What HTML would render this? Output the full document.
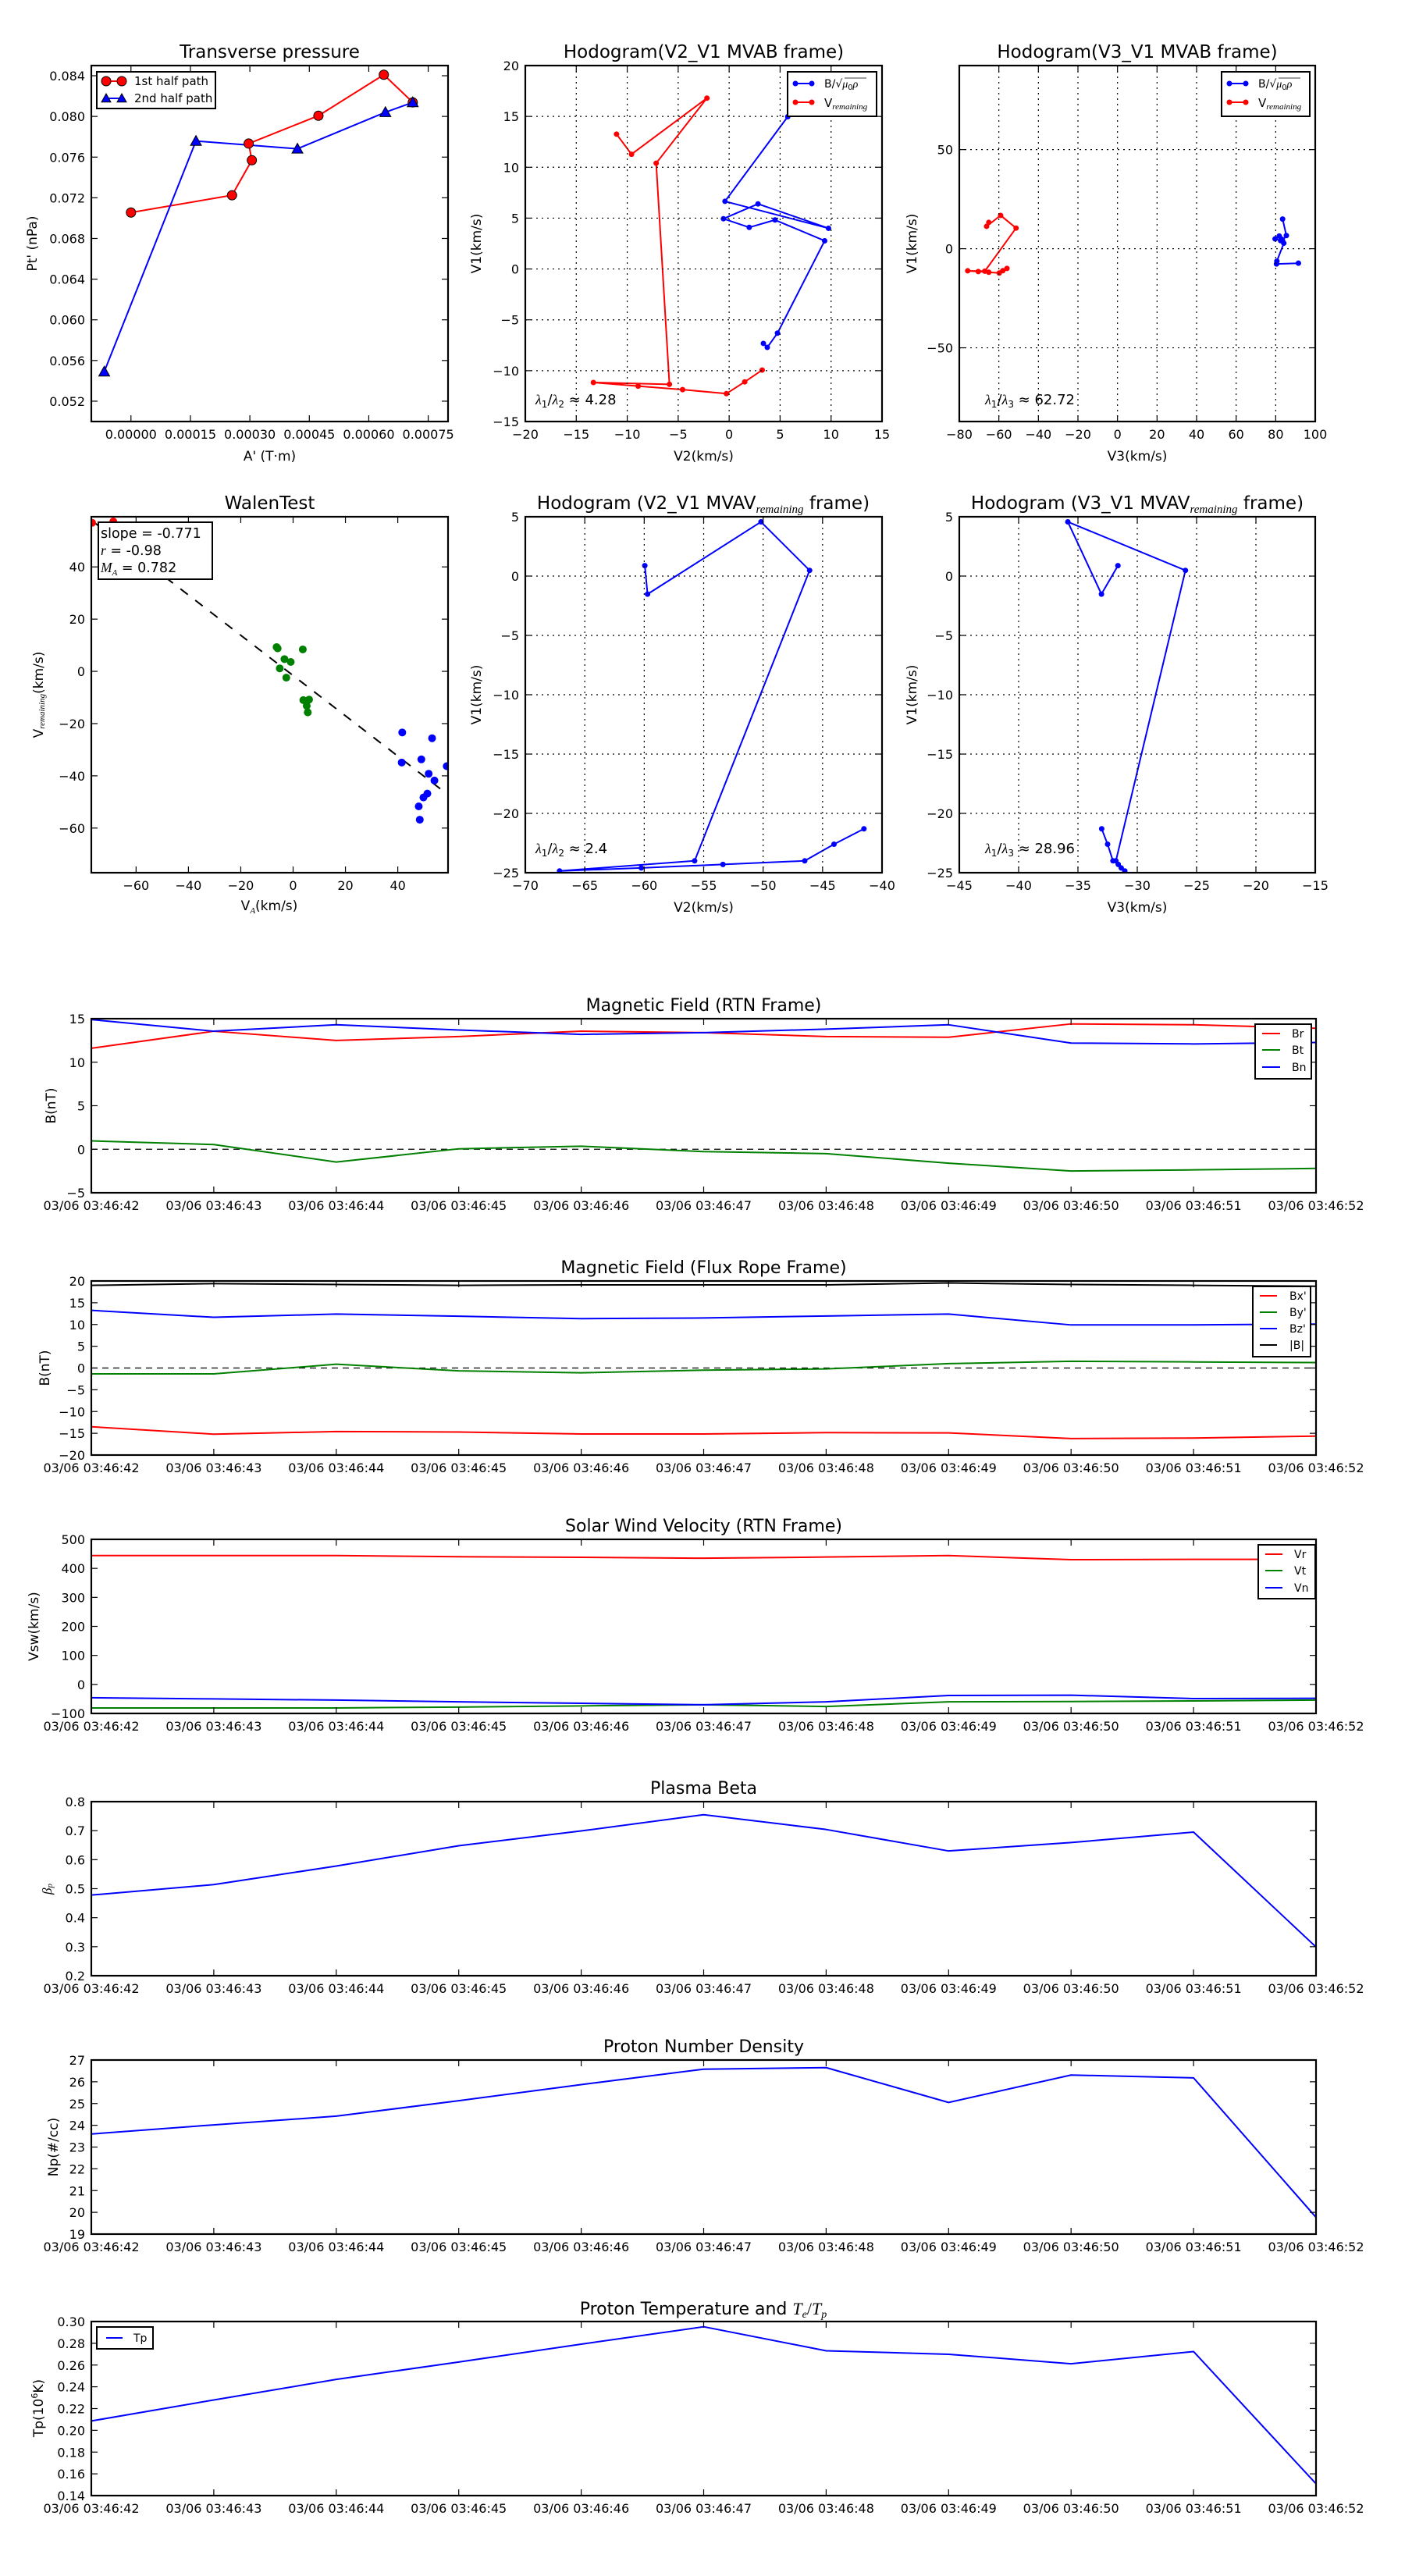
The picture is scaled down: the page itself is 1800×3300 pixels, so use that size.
<!DOCTYPE html>
<html><head><meta charset="utf-8"><title>Flux rope analysis</title>
<style>html,body{margin:0;padding:0;background:#fff}svg{display:block}text{font-family:"DejaVu Sans","Liberation Sans",sans-serif;fill:#000}</style>
</head><body>
<svg id="fig" xmlns="http://www.w3.org/2000/svg" width="1800" height="3300" viewBox="0 0 1800 3300"><rect width="1800" height="3300" fill="#fff"/></svg>
<script>
// ---- Transverse pressure ----
const tpA1=[0,0.000255,0.000305,0.000297,0.000473,0.000638,0.000711];
const tpP1=[0.07055,0.07225,0.07569,0.07733,0.08007,0.0841,0.08138];
const tpA2=[0.000711,0.000642,0.00042,0.000164,-0.0000674];
const tpP2=[0.08138,0.08041,0.07682,0.07758,0.0549];
// ---- Hodogram MVAB ----
const bV2=[5.75,-0.41,9.75,2.83,-0.56,1.97,4.5,9.37,4.74,3.74,3.36];
const bV1=[14.97,6.65,4.0,6.4,4.94,4.09,4.82,2.77,-6.31,-7.71,-7.32];
const bV3=[83.5,85.4,83.5,81.8,79.7,82.5,83.0,84.1,80.6,80.4,91.5];
const rV2=[-11.05,-9.58,-2.18,-7.16,-5.86,-13.32,-8.93,-4.57,-0.27,1.53,3.24];
const rV1=[13.26,11.28,16.8,10.4,-11.34,-11.16,-11.52,-11.86,-12.26,-11.1,-9.94];
const rV3=[-65.1,-66.2,-59.1,-51.3,-67.1,-75.75,-70.4,-65.1,-59.8,-58.0,-55.9];
// ---- Hodogram MVAV ----
const mV2=[-59.95,-59.72,-50.18,-46.09,-55.76,-67.12,-60.25,-53.38,-46.5,-44.04,-41.52];
const mV1=[0.88,-1.52,4.57,0.48,-24.0,-24.85,-24.6,-24.3,-24.0,-22.6,-21.3];
const mV3=[-31.63,-33.02,-35.85,-25.94,-31.8,-31.05,-31.35,-31.6,-32.05,-32.5,-33.0];
// ---- Walen test ----
const wRedVA=[-76.8,-68.7];
const wRedVR=[56.9,57.4];
const wGreenVA=[-6.3,-5.9,-3.3,-0.9,-5.1,-2.6,3.7,3.9,6.1,5.2,5.6];
const wGreenVR=[9.3,8.8,4.7,3.6,1.15,-2.4,8.4,-11.0,-10.8,-13.2,-15.7];
const wBlueVA=[41.7,41.5,49,53.1,58.7,51.8,54,51.3,49.8,48,48.4];
const wBlueVR=[-23.4,-34.9,-33.7,-25.6,-36.3,-39.2,-41.8,-46.8,-48.3,-51.7,-56.8];
const wSlope=-0.771;
const wIntercept=-1.6;
const wFitRange=[-77.1,56.3];
// ---- Time series ----
const timeLabels=["03/06 03:46:42","03/06 03:46:43","03/06 03:46:44","03/06 03:46:45","03/06 03:46:46","03/06 03:46:47","03/06 03:46:48","03/06 03:46:49","03/06 03:46:50","03/06 03:46:51","03/06 03:46:52"];
const Br=[11.6,13.56,12.5,12.95,13.56,13.4,12.95,12.87,14.4,14.3,13.9];
const Bt=[0.96,0.54,-1.47,0.05,0.35,-0.27,-0.5,-1.6,-2.5,-2.37,-2.2];
const Bn=[14.9,13.56,14.3,13.7,13.2,13.4,13.8,14.3,12.2,12.1,12.27];
const Bxp=[-13.5,-15.2,-14.6,-14.7,-15.15,-15.15,-14.85,-14.9,-16.2,-16.1,-15.65];
const Byp=[-1.35,-1.35,0.87,-0.65,-1.1,-0.5,-0.2,1.0,1.55,1.4,1.25];
const Bzp=[13.25,11.65,12.4,11.9,11.35,11.5,11.95,12.4,9.9,9.9,10.1];
const Bmag=[19.0,19.4,19.2,19.0,19.1,19.1,19.1,19.55,19.2,19.0,18.8];
const Vr=[444,444,444,440,438,435,439,444,430,431,431];
const Vt=[-81,-81,-81,-78,-74,-70,-76,-60,-59,-57,-54];
const Vn=[-46,-50,-54,-60,-65,-70,-60,-38,-37,-49,-48];
const beta=[0.478,0.514,0.578,0.648,0.699,0.755,0.704,0.630,0.659,0.695,0.299];
const Np=[23.6,24.02,24.42,25.13,25.87,26.58,26.65,25.05,26.31,26.18,19.77];
const Tp=[0.2086,0.2279,0.2468,0.2628,0.2792,0.2952,0.2731,0.2699,0.2612,0.2724,0.1509];

const NS="http://www.w3.org/2000/svg";
const fig=document.getElementById('fig');
let clipN=0;
function el(tag,attrs,name,parent){
  const e=document.createElementNS(NS,tag);
  for(const k in attrs){e.setAttribute(k,attrs[k]);}
  
  
  (parent||fig).appendChild(e);
  return e;
}
function txt(s,x,y,size,name,opts,parent){
  opts=opts||{};
  const a={x:x,y:y,'font-size':size,'text-anchor':opts.anchor||'middle'};
  if(opts.rot){a.transform='rotate(-90 '+x+' '+y+')';}
  if(opts.db){a['dominant-baseline']=opts.db;}
  const t=el('text',a,name,parent);
  t.textContent=s;
  return t;
}
function fmtNum(v,d){let s=v.toFixed(d);if(v<-1e-12)s='\u2212'+s.slice(1);if(Math.abs(v)<1e-12)s=(0).toFixed(d);return s;}
function axes(o){
  const g=el('g',{},o.name);
  const sx=v=>o.L+(v-o.xmin)/(o.xmax-o.xmin)*(o.R-o.L);
  const sy=v=>o.B-(v-o.ymin)/(o.ymax-o.ymin)*(o.B-o.T);
  clipN++;
  const cp=el('clipPath',{id:'c'+clipN},'clip-region',g);
  el('rect',{x:o.L,y:o.T,width:o.R-o.L,height:o.B-o.T},'clip-rect',cp);
  const plot=el('g',{'clip-path':'url(#c'+clipN+')'},'plot-area',g);
  if(o.grid){
    o.xt.forEach(v=>{el('line',{x1:sx(v),x2:sx(v),y1:o.T,y2:o.B,stroke:'#000','stroke-width':1.2,'stroke-dasharray':'2,5'},'x-grid-line',g);});
    o.yt.forEach(v=>{el('line',{x1:o.L,x2:o.R,y1:sy(v),y2:sy(v),stroke:'#000','stroke-width':1.2,'stroke-dasharray':'2,5'},'y-grid-line',g);});
  }
  o.xt.forEach((v,i)=>{
    el('line',{x1:sx(v),x2:sx(v),y1:o.B,y2:o.B-8,stroke:'#000','stroke-width':1.2},'x-tick',g);
    el('line',{x1:sx(v),x2:sx(v),y1:o.T,y2:o.T+8,stroke:'#000','stroke-width':1.2},'x-tick-top',g);
    txt(o.xl?o.xl[i]:o.xf(v),sx(v),o.B+22,o.fs||16,'x-tick-label',{},g);
  });
  o.yt.forEach((v,i)=>{
    el('line',{x1:o.L,x2:o.L+8,y1:sy(v),y2:sy(v),stroke:'#000','stroke-width':1.2},'y-tick',g);
    el('line',{x1:o.R,x2:o.R-8,y1:sy(v),y2:sy(v),stroke:'#000','stroke-width':1.2},'y-tick-right',g);
    txt(o.yf(v),o.L-8,sy(v)+6,o.fs||16,'y-tick-label',{anchor:'end'},g);
  });
  if(o.title){txt(o.title,(o.L+o.R)/2,o.T-10,o.tfs||23,'chart-title',{},g);}
  if(o.xlabel){txt(o.xlabel,(o.L+o.R)/2,o.B+50,17,'x-axis-title',{},g);}
  if(o.ylabel){txt(o.ylabel,o.ylx,(o.T+o.B)/2,17,'y-axis-title',{rot:true,db:'central'},g);}
  el('rect',{x:o.L,y:o.T,width:o.R-o.L,height:o.B-o.T,fill:'none',stroke:'#000','stroke-width':2.2},'axes-frame',g);
  return {sx,sy,g,plot};
}
function poly(ax,xs,ys,color,name,w){
  const pts=xs.map((x,i)=>ax.sx(x).toFixed(2)+','+ax.sy(ys[i]).toFixed(2)).join(' ');
  return el('polyline',{points:pts,fill:'none',stroke:color,'stroke-width':w||2,'stroke-linejoin':'round'},name,ax.plot);
}
function dots(ax,xs,ys,color,r,name,stroke){
  xs.forEach((x,i)=>{el('circle',{cx:ax.sx(x),cy:ax.sy(ys[i]),r:r,fill:color,stroke:stroke||color,'stroke-width':stroke?1:0},name,ax.plot);});
}
function tri(cx,cy,s,name,parent){
  return el('polygon',{points:(cx)+','+(cy-s)+' '+(cx-s)+','+(cy+s*0.8)+' '+(cx+s)+','+(cy+s*0.8),fill:'#0000ff',stroke:'#000','stroke-width':1},name,parent);
}
function rng(a,b,s){const r=[];for(let v=a;v<=b+1e-9;v+=s)r.push(+v.toFixed(8));return r;}

// ===== Panel 1: Transverse pressure =====
(function(){
  const ax=axes({name:'transverse-pressure-chart',L:117,R:574,T:84,B:540,xmin:-0.0001,xmax:0.0008,ymin:0.050,ymax:0.085,
    xt:rng(0,0.00075,0.00015),yt:rng(0.052,0.084,0.004),xf:v=>v.toFixed(5),yf:v=>v.toFixed(3),
    title:'Transverse pressure',xlabel:"A' (T\u00b7m)",ylabel:"Pt' (nPa)",ylx:42});
  poly(ax,tpA1,tpP1,'#ff0000','first-half-path-line');
  poly(ax,tpA2,tpP2,'#0000ff','second-half-path-line');
  dots(ax,tpA1,tpP1,'#ff0000',6,'first-half-marker','#000');
  tpA2.forEach((a,i)=>{tri(ax.sx(a),ax.sy(tpP2[i]),7,'second-half-marker',ax.plot);});
  const lg=el('g',{},'legend',ax.g);
  el('rect',{x:124,y:92,width:152,height:47,fill:'#fff',stroke:'#000','stroke-width':2},'legend-box',lg);
  el('line',{x1:136,x2:156,y1:104,y2:104,stroke:'#ff0000','stroke-width':2},'legend-line-first',lg);
  el('circle',{cx:136,cy:104,r:6,fill:'#ff0000',stroke:'#000','stroke-width':1},'legend-marker-first',lg);
  el('circle',{cx:156,cy:104,r:6,fill:'#ff0000',stroke:'#000','stroke-width':1},'legend-marker-first',lg);
  el('line',{x1:136,x2:156,y1:126,y2:126,stroke:'#0000ff','stroke-width':2},'legend-line-second',lg);
  tri(136,126,6,'legend-marker-second',lg);tri(156,126,6,'legend-marker-second',lg);
  txt('1st half path',172,109,15,'legend-entry-first',{anchor:'start'},lg);
  txt('2nd half path',172,131,15,'legend-entry-second',{anchor:'start'},lg);
})();

function hodoLegend(parent,x0,x1,lx0,lx1,tx){
  const lg=el('g',{},'legend',parent);
  el('rect',{x:x0,y:92,width:x1-x0,height:57,fill:'#fff',stroke:'#000','stroke-width':2},'legend-box',lg);
  el('line',{x1:lx0,x2:lx1,y1:107,y2:107,stroke:'#0000ff','stroke-width':2},'legend-line-b',lg);
  el('circle',{cx:lx0,cy:107,r:3.5,fill:'#0000ff'},'legend-marker-b',lg);
  el('circle',{cx:lx1,cy:107,r:3.5,fill:'#0000ff'},'legend-marker-b',lg);
  el('line',{x1:lx0,x2:lx1,y1:131,y2:131,stroke:'#ff0000','stroke-width':2},'legend-line-v',lg);
  el('circle',{cx:lx0,cy:131,r:3.5,fill:'#ff0000'},'legend-marker-v',lg);
  el('circle',{cx:lx1,cy:131,r:3.5,fill:'#ff0000'},'legend-marker-v',lg);
  const t1=txt('',tx,112,14,'legend-entry-b',{anchor:'start'},lg);
  t1.innerHTML='B/\u221a<tspan font-style="italic" font-family="Liberation Serif">\u03bc</tspan><tspan font-size="10" dy="3">0</tspan><tspan font-style="italic" font-family="Liberation Serif" dy="-3">\u03c1</tspan>';
  el('line',{x1:tx+26,x2:tx+54,y1:100,y2:100,stroke:'#000','stroke-width':0.8},'sqrt-bar',lg);
  const t2=txt('',tx,137,15,'legend-entry-v',{anchor:'start'},lg);
  t2.innerHTML='V<tspan font-size="11" font-style="italic" font-family="Liberation Serif" dy="3">remaining</tspan>';
}
function lam(parent,x,y,a,b,val){
  const t=txt('',x,y,18,'eigenvalue-ratio-label',{anchor:'start'},parent);
  t.innerHTML='<tspan font-style="italic" font-family="Liberation Serif">\u03bb</tspan><tspan font-size="12" dy="4">'+a+'</tspan><tspan dy="-4">/</tspan><tspan font-style="italic" font-family="Liberation Serif">\u03bb</tspan><tspan font-size="12" dy="4">'+b+'</tspan><tspan dy="-4"> \u2248 '+val+'</tspan>';
}
// ===== Panel 2 =====
(function(){
  const ax=axes({name:'hodogram-v2-v1-mvab',L:673,R:1130,T:84,B:540,xmin:-20,xmax:15,ymin:-15,ymax:20,grid:true,
    xt:rng(-20,15,5),yt:rng(-15,20,5),xf:v=>fmtNum(v,0),yf:v=>fmtNum(v,0),
    title:'Hodogram(V2_V1 MVAB frame)',xlabel:'V2(km/s)',ylabel:'V1(km/s)',ylx:611});
  poly(ax,bV2,bV1,'#0000ff','b-alfven-line');dots(ax,bV2,bV1,'#0000ff',3.5,'b-alfven-point');
  poly(ax,rV2,rV1,'#ff0000','v-remaining-line');dots(ax,rV2,rV1,'#ff0000',3.5,'v-remaining-point');
  hodoLegend(ax.g,1009,1123,1019,1040,1056);
  lam(ax.g,686,518,'1','2','4.28');
})();
// ===== Panel 3 =====
(function(){
  const ax=axes({name:'hodogram-v3-v1-mvab',L:1229,R:1685,T:84,B:540,xmin:-80,xmax:100,ymin:-87.2,ymax:92.4,grid:true,
    xt:rng(-80,100,20),yt:[-50,0,50],xf:v=>fmtNum(v,0),yf:v=>fmtNum(v,0),
    title:'Hodogram(V3_V1 MVAB frame)',xlabel:'V3(km/s)',ylabel:'V1(km/s)',ylx:1169});
  poly(ax,bV3,bV1,'#0000ff','b-alfven-line');dots(ax,bV3,bV1,'#0000ff',3.5,'b-alfven-point');
  poly(ax,rV3,rV1,'#ff0000','v-remaining-line');dots(ax,rV3,rV1,'#ff0000',3.5,'v-remaining-point');
  hodoLegend(ax.g,1565,1678,1575,1596,1612);
  lam(ax.g,1262,518,'1','3','62.72');
})();
// ===== Walen =====
(function(){
  const ax=axes({name:'walen-test-chart',L:117,R:574,T:662,B:1118,xmin:-77.1,xmax:59.2,ymin:-77.1,ymax:59.2,
    xt:rng(-60,40,20),yt:rng(-60,40,20),xf:v=>fmtNum(v,0),yf:v=>fmtNum(v,0),
    title:'WalenTest',ylx:50});
  const xl=txt('',345,1166,17,'x-axis-title',{},ax.g);
  xl.innerHTML='V<tspan font-size="11" font-style="italic" font-family="Liberation Serif" dy="4">A</tspan><tspan dy="-4">(km/s)</tspan>';
  const yl=txt('',50,890,17,'y-axis-title',{rot:true,db:'central'},ax.g);
  yl.innerHTML='V<tspan font-size="11" font-style="italic" font-family="Liberation Serif" dy="4">remaining</tspan><tspan dy="-4">(km/s)</tspan>';
  el('line',{x1:ax.sx(wFitRange[0]),y1:ax.sy(wSlope*wFitRange[0]+wIntercept),x2:ax.sx(wFitRange[1]),y2:ax.sy(wSlope*wFitRange[1]+wIntercept),stroke:'#000','stroke-width':2,'stroke-dasharray':'12,12'},'fit-line',ax.plot);
  dots(ax,wRedVA,wRedVR,'#ff0000',5,'walen-point-red');
  dots(ax,wGreenVA,wGreenVR,'#008000',5,'walen-point-green');
  dots(ax,wBlueVA,wBlueVR,'#0000ff',5,'walen-point-blue');
  const bx=el('g',{},'stats-box',ax.g);
  el('rect',{x:126,y:669,width:146,height:73,fill:'#fff',stroke:'#000','stroke-width':2},'stats-box-frame',bx);
  txt('slope = -0.771',129,689,17.5,'slope-label',{anchor:'start'},bx);
  const r=txt('',129,711,17.5,'r-label',{anchor:'start'},bx);
  r.innerHTML='<tspan font-style="italic" font-family="Liberation Serif">r</tspan> = -0.98';
  const m=txt('',129,733,17.5,'ma-label',{anchor:'start'},bx);
  m.innerHTML='<tspan font-style="italic" font-family="Liberation Serif">M</tspan><tspan font-size="11" font-style="italic" font-family="Liberation Serif" dy="4">A</tspan><tspan dy="-4"> = 0.782</tspan>';
})();
function mvavTitle(ax,cx,pre){
  const t=txt('',cx,652,23,'chart-title',{},ax.g);
  t.innerHTML=pre+' MVAV<tspan font-size="15" font-style="italic" font-family="Liberation Serif" dy="5">remaining</tspan><tspan dy="-5"> frame)</tspan>';
}
// ===== Panel 5 =====
(function(){
  const ax=axes({name:'hodogram-v2-v1-mvav',L:673,R:1130,T:662,B:1118,xmin:-70,xmax:-40,ymin:-25,ymax:5,grid:true,
    xt:rng(-70,-40,5),yt:rng(-25,5,5),xf:v=>fmtNum(v,0),yf:v=>fmtNum(v,0),
    xlabel:'V2(km/s)',ylabel:'V1(km/s)',ylx:611});
  mvavTitle(ax,901,'Hodogram (V2_V1');
  poly(ax,mV2,mV1,'#0000ff','mvav-line');dots(ax,mV2,mV1,'#0000ff',3.5,'mvav-point');
  lam(ax.g,686,1093,'1','2','2.4');
})();
// ===== Panel 6 =====
(function(){
  const ax=axes({name:'hodogram-v3-v1-mvav',L:1229,R:1685,T:662,B:1118,xmin:-45,xmax:-15,ymin:-25,ymax:5,grid:true,
    xt:rng(-45,-15,5),yt:rng(-25,5,5),xf:v=>fmtNum(v,0),yf:v=>fmtNum(v,0),
    xlabel:'V3(km/s)',ylabel:'V1(km/s)',ylx:1169});
  mvavTitle(ax,1457,'Hodogram (V3_V1');
  poly(ax,mV3,mV1,'#0000ff','mvav-line');dots(ax,mV3,mV1,'#0000ff',3.5,'mvav-point');
  lam(ax.g,1262,1093,'1','3','28.96');
})();

// ===== Time series =====
const tIdx=timeLabels.map((s,i)=>i);
function tsAxes(name,T,ymin,ymax,yt,yf,title,ylabel,ylx){
  return axes({name:name,L:117,R:1686,T:T,B:T+223,xmin:0,xmax:10,ymin:ymin,ymax:ymax,xt:tIdx,xl:timeLabels,yt:yt,xf:null,yf:yf,
    title:title,tfs:22,ylabel:ylabel,ylx:ylx,fs:16});
}
function tsLegend(parent,x0,y0,x1,y1,lx0,lx1,tx,rows,labels,colors){
  const lg=el('g',{},'legend',parent);
  el('rect',{x:x0,y:y0,width:x1-x0,height:y1-y0,fill:'#fff',stroke:'#000','stroke-width':2},'legend-box',lg);
  rows.forEach((y,i)=>{
    el('line',{x1:lx0,x2:lx1,y1:y,y2:y,stroke:colors[i],'stroke-width':2},'legend-line',lg);
    txt(labels[i],tx,y+5,14,'legend-entry',{anchor:'start'},lg);
  });
}
function zeroLine(ax){el('line',{x1:ax.sx(0),x2:ax.sx(10),y1:ax.sy(0),y2:ax.sy(0),stroke:'#000','stroke-width':1.2,'stroke-dasharray':'8,6'},'zero-line',ax.plot);}
(function(){
  const ax=tsAxes('magnetic-field-rtn-chart',1305,-5,15,rng(-5,15,5),v=>fmtNum(v,0),'Magnetic Field (RTN Frame)','B(nT)',66);
  zeroLine(ax);
  poly(ax,tIdx,Br,'#ff0000','br-line');poly(ax,tIdx,Bt,'#008000','bt-line');poly(ax,tIdx,Bn,'#0000ff','bn-line');
  tsLegend(ax.g,1608,1312,1680,1382,1617,1640,1655,[1324,1345,1367],['Br','Bt','Bn'],['#ff0000','#008000','#0000ff']);
})();
(function(){
  const ax=tsAxes('magnetic-field-flux-rope-chart',1641,-20,20,rng(-20,20,5),v=>fmtNum(v,0),'Magnetic Field (Flux Rope Frame)','B(nT)',58);
  zeroLine(ax);
  poly(ax,tIdx,Bxp,'#ff0000','bx-line');poly(ax,tIdx,Byp,'#008000','by-line');poly(ax,tIdx,Bzp,'#0000ff','bz-line');poly(ax,tIdx,Bmag,'#000','bmag-line');
  tsLegend(ax.g,1605,1648,1679,1738,1614,1636,1652,[1660,1681,1702,1723],["Bx'","By'","Bz'","|B|"],['#ff0000','#008000','#0000ff','#000']);
})();
(function(){
  const ax=tsAxes('solar-wind-velocity-chart',1972,-100,500,rng(-100,500,100),v=>fmtNum(v,0),'Solar Wind Velocity (RTN Frame)','Vsw(km/s)',44);
  poly(ax,tIdx,Vr,'#ff0000','vr-line');poly(ax,tIdx,Vt,'#008000','vt-line');poly(ax,tIdx,Vn,'#0000ff','vn-line');
  tsLegend(ax.g,1612,1979,1685,2048,1621,1643,1658,[1991,2012,2034],['Vr','Vt','Vn'],['#ff0000','#008000','#0000ff']);
})();
(function(){
  const ax=tsAxes('plasma-beta-chart',2308,0.2,0.8,rng(0.2,0.8,0.1),v=>v.toFixed(1),'Plasma Beta',null,60);
  const yl=txt('',60,2420,17,'y-axis-title',{rot:true,db:'central'},ax.g);
  yl.innerHTML='<tspan font-style="italic" font-family="Liberation Serif">\u03b2</tspan><tspan font-size="11" font-style="italic" font-family="Liberation Serif" dy="4">p</tspan>';
  poly(ax,tIdx,beta,'#0000ff','beta-line');
})();
(function(){
  const ax=tsAxes('proton-density-chart',2639,19,27,rng(19,27,1),v=>fmtNum(v,0),'Proton Number Density','Np(#/cc)',69);
  poly(ax,tIdx,Np,'#0000ff','density-line');
})();
(function(){
  const ax=tsAxes('proton-temperature-chart',2974,0.14,0.30,rng(0.14,0.30,0.02),v=>v.toFixed(2),null,null,50);
  const t=txt('',901,2965,22,'chart-title',{},ax.g);
  t.innerHTML='Proton Temperature and <tspan font-style="italic" font-family="Liberation Serif">T</tspan><tspan font-size="14" font-style="italic" font-family="Liberation Serif" dy="4">e</tspan><tspan dy="-4" font-family="Liberation Serif">/</tspan><tspan font-style="italic" font-family="Liberation Serif">T</tspan><tspan font-size="14" font-style="italic" font-family="Liberation Serif" dy="4">p</tspan>';
  const yl=txt('',50,3085,17,'y-axis-title',{rot:true,db:'central'},ax.g);
  yl.innerHTML='Tp(10<tspan font-size="11" dy="-6">6</tspan><tspan dy="6">K)</tspan>';
  poly(ax,tIdx,Tp,'#0000ff','temperature-line');
  tsLegend(ax.g,124,2981,196,3009,136,157,171,[2995],['Tp'],['#0000ff']);
})();
</script>
</body></html>
